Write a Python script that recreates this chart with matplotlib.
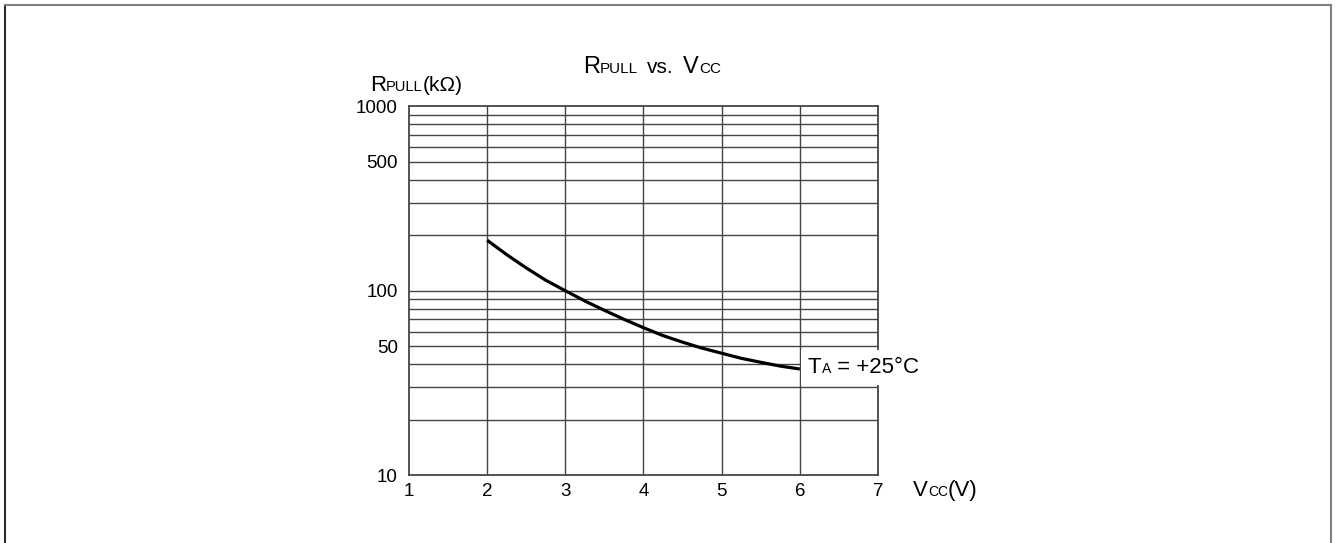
import matplotlib
matplotlib.use("Agg")
import matplotlib.pyplot as plt
from matplotlib.lines import Line2D
from matplotlib.offsetbox import TextArea, HPacker, AnnotationBbox
from matplotlib.ticker import FixedLocator, NullFormatter

plt.rcParams['font.family'] = ['Liberation Sans', 'DejaVu Sans']

# curve (TA = +25C)
vcc = [2.0, 2.25, 2.5, 2.75, 3.0, 3.25, 3.5, 3.75, 4.0, 4.25, 4.5, 4.75, 5.0, 5.25, 5.5, 5.75, 6.0]
rpull = [188, 157, 133, 114, 100, 88, 78.3, 70, 63, 57.1, 52.6, 48.8, 45.8, 43.0, 40.9, 39.0, 37.6]

x_ticks = [1, 2, 3, 4, 5, 6, 7]
y_labelled = [10, 50, 100, 500, 1000]
y_grid = [20, 30, 40, 60, 70, 80, 90, 200, 300, 400, 600, 700, 800, 900]

BIG = 16
SMALL = 10
GRID = '#444444'

fig = plt.figure(figsize=(13.37, 5.43), dpi=100)
ax = fig.add_axes([0.3059, 0.1252, 0.3508, 0.6787])
ax.set_yscale('log')
ax.set_xlim(1, 7)
ax.set_ylim(10, 1000)

ax.set_xticks(x_ticks)
ax.set_xticklabels([str(v) for v in x_ticks])
ax.yaxis.set_major_locator(FixedLocator(y_labelled))
ax.set_yticklabels([str(v) for v in y_labelled])
ax.yaxis.set_minor_locator(FixedLocator(y_grid))
ax.yaxis.set_minor_formatter(NullFormatter())
ax.tick_params(axis='both', which='both', length=0, labelsize=13.5)
ax.tick_params(axis='x', pad=5.5)
ax.tick_params(axis='y', pad=8)

for v in x_ticks[1:-1]:
    ax.axvline(v, color=GRID, lw=1.0, zorder=1)
for v in y_labelled[1:-1] + y_grid:
    ax.axhline(v, color=GRID, lw=1.0, zorder=1)
for s in ax.spines.values():
    s.set_color(GRID)
    s.set_linewidth(1.3)

ax.plot(vcc, rpull, color='black', lw=2.3, zorder=3, solid_capstyle='butt')


def rich(parts, xy, align=(0, 0), box=False):
    kids = [TextArea(s, textprops=dict(fontsize=fs, color='black')) for s, fs in parts]
    pack = HPacker(children=kids, align='baseline', pad=0, sep=0)
    ab = AnnotationBbox(pack, xy, xycoords='figure pixels', box_alignment=align,
                        frameon=box, pad=0.5 if box else 0,
                        bboxprops=dict(facecolor='white', edgecolor='none'))
    ab.set_zorder(5)
    fig.add_artist(ab)


H = 543
rich([('R', 17), ('PULL', 11), ('  ', 12), ('vs.', 15), ('  ', 12), ('V', 17), ('CC', 11)],
     (583, H - 73.3 - 5))
rich([('R', BIG), ('PULL', SMALL + 0.5), ('(k\u03a9)', 15)], (370, H - 91 - 4.7))
rich([('V', BIG), ('CC', SMALL), ('(V)', BIG)], (913, H - 496 - 4.7))
rich([('T', BIG), ('A', SMALL), (' = +25\u00b0C', BIG)], (808, H - 367.5), align=(0, 0.5), box=True)

# page frame
fig.add_artist(Line2D([5, 5], [0, H - 5], transform=None, color='#2a2a2a', lw=1.5))
fig.add_artist(Line2D([5, 1331], [H - 5, H - 5], transform=None, color='#808080', lw=1.5))
fig.add_artist(Line2D([1331, 1331], [0, H - 5], transform=None, color='#808080', lw=1.5))

fig.savefig('out.png', dpi=100)
